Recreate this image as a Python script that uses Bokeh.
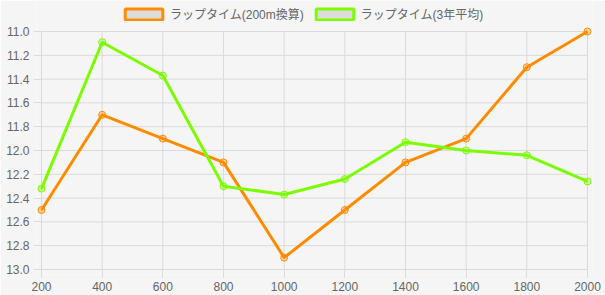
from bokeh.plotting import figure
from bokeh.models import (Range1d, FixedTicker, Legend, LegendItem, ColumnDataSource,
                          CustomJSTickFormatter)
from bokeh.embed import file_html
from bokeh.resources import INLINE

distances = [200, 400, 600, 800, 1000, 1200, 1400, 1600, 1800, 2000]
lap_200m = [12.5, 11.7, 11.9, 12.1, 12.9, 12.5, 12.1, 11.9, 11.3, 11.0]
lap_3yr = [12.32, 11.09, 11.37, 12.30, 12.37, 12.24, 11.93, 12.00, 12.04, 12.26]
series_names = ["ラップタイム(200m換算)", "ラップタイム(3年平均)"]
y_ticks = [11.0, 11.2, 11.4, 11.6, 11.8, 12.0, 12.2, 12.4, 12.6, 12.8, 13.0]

ORANGE = "#ff8c00"
GREEN = "#7cfc00"
BG = "#f5f5f5"
GRID = "#dadada"
TXT = "#666666"
FONT = "'Liberation Sans', 'Noto Sans CJK JP'"

X_MIN, X_MAX = distances[0], distances[-1]
Y_TOP, Y_BOT = y_ticks[0], y_ticks[-1]

# frame covers the top strip too (for the legend); the data area is 11.0..13.0
XPAD = 16.5
p = figure(width=605, height=295, output_backend="svg", toolbar_location=None,
           x_range=Range1d(X_MIN - XPAD, X_MAX + XPAD),
           y_range=Range1d(Y_BOT + 0.042, Y_TOP - 0.2605),
           min_border_left=36, min_border_right=13, min_border_top=0, min_border_bottom=21)
p.background_fill_color = BG
p.border_fill_color = BG
p.outline_line_color = None
p.xgrid.visible = False
p.ygrid.visible = False

for ax in (p.xaxis[0], p.yaxis[0]):
    ax.axis_line_color = None
    ax.major_tick_line_color = GRID
    ax.major_tick_out = 3
    ax.major_tick_in = 5
    ax.minor_tick_line_color = None
    ax.major_label_text_color = TXT
    ax.major_label_text_font = FONT
    ax.major_label_text_font_size = "12px"
    ax.major_label_standoff = 4
p.xaxis[0].ticker = FixedTicker(ticks=distances)
p.yaxis[0].ticker = FixedTicker(ticks=y_ticks)
p.yaxis[0].formatter = CustomJSTickFormatter(code="return tick.toFixed(1)")

# grid lines limited to the data area
gx = ColumnDataSource(dict(x=distances))
gy = ColumnDataSource(dict(y=y_ticks))
p.segment(x0="x", x1="x", y0=Y_TOP, y1=Y_BOT, source=gx, line_color=GRID,
          line_width=1, level="underlay")
p.segment(x0=X_MIN, x1=X_MAX, y0="y", y1="y", source=gy, line_color=GRID,
          line_width=1, level="underlay")

src = ColumnDataSource(dict(x=distances, a=lap_200m, b=lap_3yr))

p.line("x", "a", source=src, line_color=ORANGE, line_width=3)
p.scatter("x", "a", source=src, size=7, fill_color=ORANGE, fill_alpha=0.3,
          line_color=ORANGE, line_width=1)
p.line("x", "b", source=src, line_color=GREEN, line_width=3)
p.scatter("x", "b", source=src, size=7, fill_color=GREEN, fill_alpha=0.3,
          line_color=GREEN, line_width=1)

# legend proxy renderers (hidden, only used for the legend swatches)
proxy = ColumnDataSource(dict(l=[X_MIN], r=[X_MIN], t=[Y_TOP], b=[Y_TOP]))
ra = p.quad(left="l", right="r", top="t", bottom="b", source=proxy,
            fill_color="#dcdcdc", line_color=ORANGE, line_width=3)
rb = p.quad(left="l", right="r", top="t", bottom="b", source=proxy,
            fill_color="#dcdcdc", line_color=GREEN, line_width=3)
ra.visible = False
rb.visible = False

legend = Legend(items=[LegendItem(label=series_names[0], renderers=[ra]),
                       LegendItem(label=series_names[1], renderers=[rb])],
                orientation="horizontal", location=(84, 252),
                glyph_width=47, glyph_height=14, label_height=14,
                label_standoff=3, spacing=7, padding=0, margin=0,
                border_line_color=None, background_fill_alpha=0,
                label_text_font=FONT, label_text_font_size="12px",
                label_text_color=TXT)
p.add_layout(legend, "center")

open("out.html", "w").write(file_html(p, INLINE))
